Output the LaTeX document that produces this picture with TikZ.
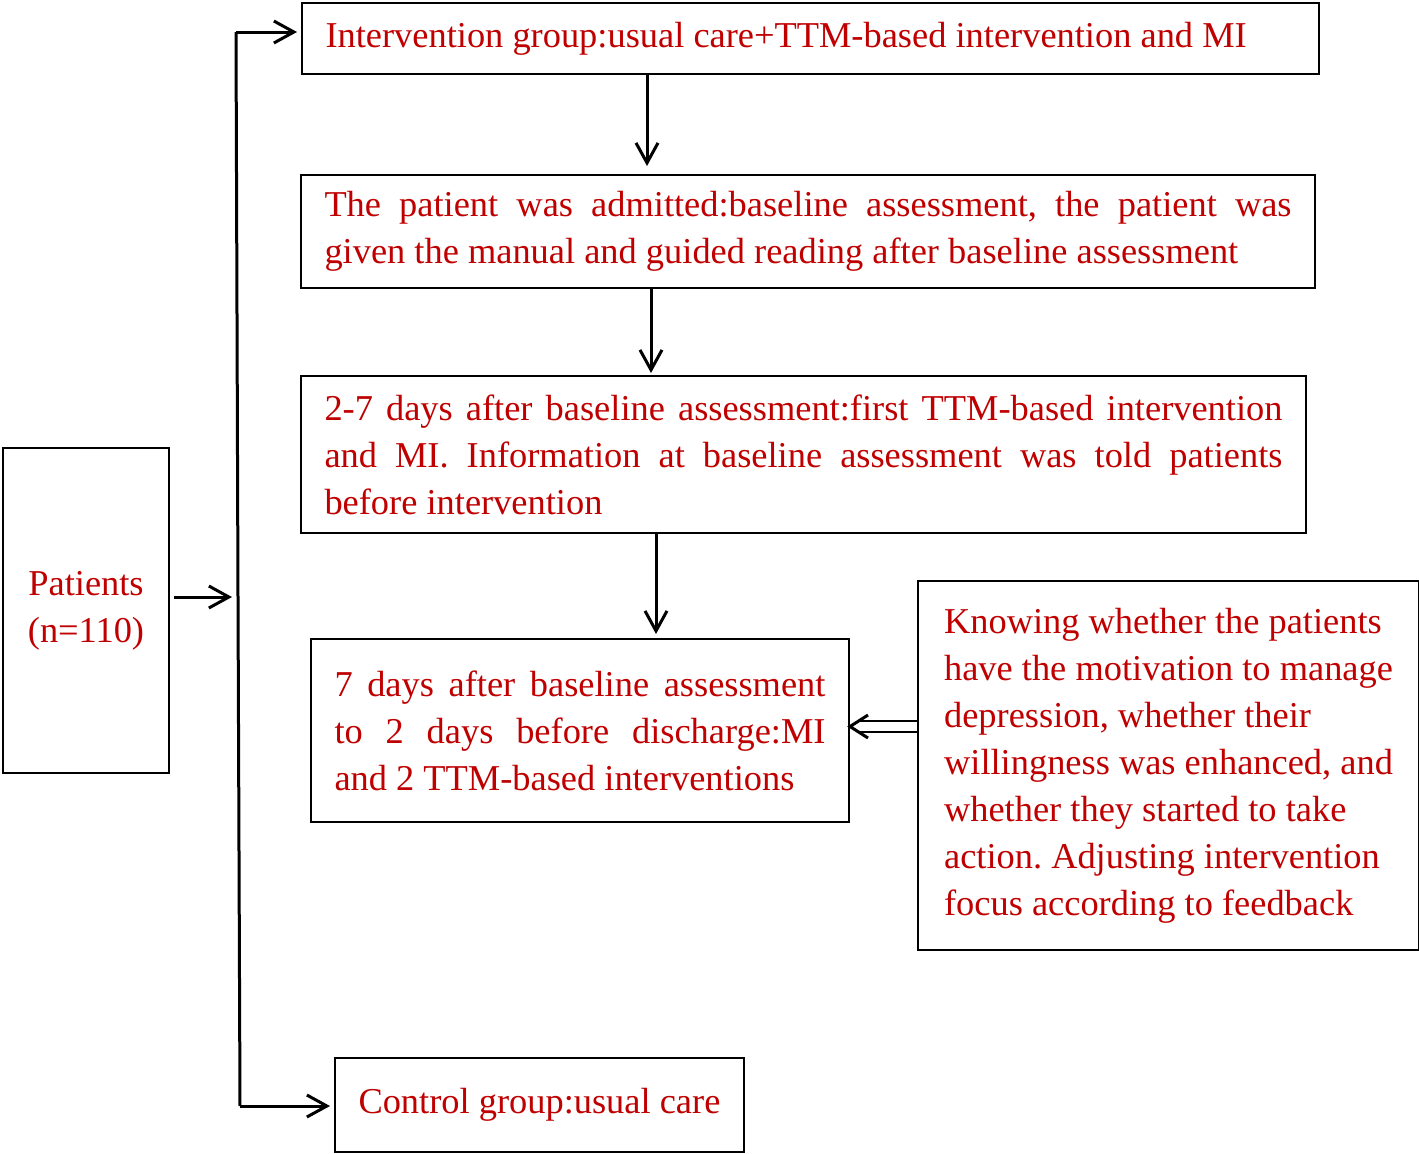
\documentclass[tikz,border=0pt]{standalone}
\usepackage{fontspec}
\setmainfont{Liberation Serif}
\usetikzlibrary{arrows.meta}
\hyphenpenalty=10000
\exhyphenpenalty=10000
\frenchspacing
\begin{document}
\begin{tikzpicture}[x=0.5pt,y=-0.5pt,
  box/.style={draw=black,line width=1pt,anchor=north west,inner xsep=11.75pt,inner ysep=0pt,
    text=textColor,font=\fontsize{18.2}{23.5}\selectfont},
  arr/.style={line width=1.5pt,-{Straight Barb[length=10pt,width=11pt,line width=1.5pt]}},
  dblline/.style={line width=1.4pt,line cap=butt},
  dblhead/.style={line width=1.5pt,line join=miter}]
\definecolor{textColor}{RGB}{192,0,0}
\path[use as bounding box,fill=white] (0,0) rectangle (1419,1153);

\node[box,minimum width=83pt,minimum height=162.5pt,align=center] (patients) at (2,447) {Patients\\(n=110)};

\node[box,minimum width=508pt,minimum height=35.5pt,text width=485pt,align=flush left] (interv) at (301,2)
  {Intervention group:usual care+TTM-based intervention and MI};
\node[box,minimum width=507pt,minimum height=56.5pt,text width=483.5pt,align=justify] (admit) at (300,174)
  {The patient was admitted:baseline assessment, the patient was\linebreak given the manual and guided reading after baseline assessment};
\node[box,minimum width=502.5pt,minimum height=78.5pt,text width=479pt,align=justify] (first) at (300,375)
  {2-7 days after baseline assessment:first TTM-based intervention\linebreak and MI. Information at baseline assessment was told patients\linebreak before intervention};
\node[box,minimum width=269pt,minimum height=91.5pt,text width=245.5pt,align=justify] (second) at (310,638)
  {7 days after baseline assessment\linebreak to 2 days before discharge:MI\linebreak and 2 TTM-based interventions};
\node[box,minimum width=250.5pt,minimum height=184.5pt,align=left] (feedback) at (917,580)
  {Knowing whether the patients\\have the motivation to manage\\depression, whether their\\willingness was enhanced, and\\whether they started to take\\action. Adjusting intervention\\focus according to feedback};
\node[box,minimum width=203.5pt,minimum height=47pt,align=center] (control) at (334,1057)
  {Control group:usual care};

\coordinate (trunktop) at (236,32);
\coordinate (trunkmid) at (238,597);
\coordinate (trunkbot) at (240,1106);

\draw[line width=1.5pt] (trunktop) -- (trunkmid) -- (trunkbot);
\draw[arr,shorten <=2pt,shorten >=3pt] (patients.east |- trunkmid) -- (trunkmid);
\draw[arr,shorten >=2pt] (trunktop) -- (trunktop -| interv.west);
\draw[arr,shorten >=2pt] (trunkbot) -- (trunkbot -| control.west);

\draw[arr,shorten >=4pt] (interv.south -| 647,0) -- (admit.north -| 647,0);
\draw[arr,shorten >=1pt] (admit.south -| 651,0) -- (first.north -| 651,0);
\draw[arr,shorten >=2pt] (first.south -| 656,0) -- (second.north -| 656,0);

\coordinate (tip) at (second.east |- 0,726.5);
\draw[dblline] ([yshift=2.75pt]feedback.west |- tip) -- ([xshift=5pt,yshift=2.75pt]tip);
\draw[dblline] ([yshift=-2.75pt]feedback.west |- tip) -- ([xshift=5pt,yshift=-2.75pt]tip);
\draw[dblhead] (tip) ++(18,-11.5) -- (tip) -- ++(18,11.5);
\end{tikzpicture}
\end{document}
